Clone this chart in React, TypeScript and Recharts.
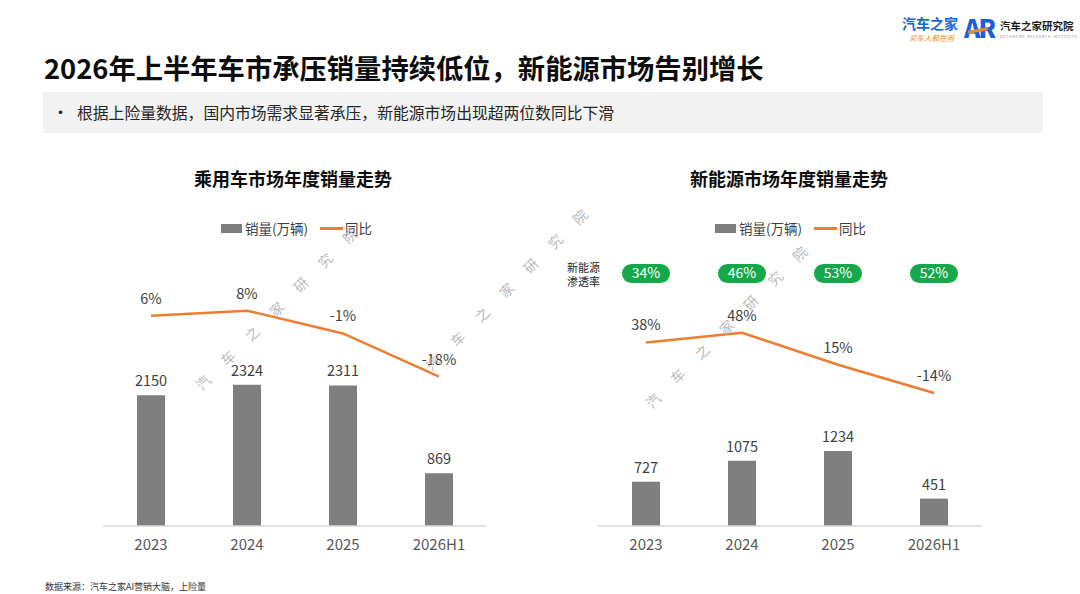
import { ComposedChart, Bar, Line, XAxis, YAxis, LabelList } from 'recharts'

const years = ['2023', '2024', '2025', '2026H1']
const pvSales = [2150, 2324, 2311, 869]
const pvYoy = [6, 8, -1, -18]
const nevSales = [727, 1075, 1234, 451]
const nevYoy = [38, 48, 15, -14]
const nevPenetration = [34, 46, 53, 52]

const FONT = '"Noto Sans CJK SC", "Microsoft YaHei", sans-serif'
const GREY = '#7f7f7f'
const ORANGE = '#ED7D31'
const GREEN = '#14a84a'

const pvData = years.map((year, i) => ({ year, sales: pvSales[i], yoy: pvYoy[i] }))
const nevData = years.map((year, i) => ({
  year,
  sales: nevSales[i],
  yoy: nevYoy[i],
  pen: nevPenetration[i],
}))

const PenPill = (props) => {
  const { x, width, value } = props
  const cx = Number(x) + Number(width) / 2
  return (
    <g>
      <rect x={cx - 24} y={64} width={48} height={19} rx={9.5} fill={GREEN} />
      <text
        x={cx}
        y={74}
        textAnchor='middle'
        dominantBaseline='middle'
        fill='#fff'
        fontSize={14}
      >
        {`${value}%`}
      </text>
    </g>
  )
}

const SalesChart = ({ data, left, yoyDomain, showPen = false }) => (
  <div style={{ position: 'absolute', left, top: 200 }}>
    <ComposedChart
      width={424}
      height={360}
      data={data}
      margin={{ top: 22, right: 20, left: 20, bottom: 0 }}
    >
      <XAxis
        dataKey='year'
        height={34}
        tickLine={false}
        axisLine={{ stroke: '#d9d9d9', strokeWidth: 1.5 }}
        tick={{ fill: '#595959', fontSize: 15 }}
        tickMargin={7}
      />
      <YAxis yAxisId='sales' domain={[0, 5000]} hide />
      <YAxis yAxisId='yoy' domain={yoyDomain} hide />
      <Bar yAxisId='sales' dataKey='sales' barSize={28} fill={GREY} isAnimationActive={false}>
        <LabelList dataKey='sales' position='top' offset={9} fill='#404040' fontSize={14.5} />
        {showPen && <LabelList dataKey='pen' content={PenPill} />}
      </Bar>
      <Line
        yAxisId='yoy'
        type='linear'
        dataKey='yoy'
        stroke={ORANGE}
        strokeWidth={2.5}
        dot={false}
        isAnimationActive={false}
      >
        <LabelList
          dataKey='yoy'
          position='top'
          offset={12}
          fill='#404040'
          fontSize={14.5}
          formatter={(v) => `${v}%`}
        />
      </Line>
    </ComposedChart>
  </div>
)

const Legend = ({ left }) => (
  <div style={{ position: 'absolute', left, top: 219, height: 18, fontSize: 13.5, color: '#404040' }}>
    <div style={{ position: 'absolute', left: 0, top: 5, width: 21, height: 9, background: GREY }} />
    <div style={{ position: 'absolute', left: 24, top: 0, whiteSpace: 'nowrap', lineHeight: '18px' }}>销量(万辆)</div>
    <div style={{ position: 'absolute', left: 99, top: 8, width: 23, height: 3, background: ORANGE }} />
    <div style={{ position: 'absolute', left: 124, top: 0, whiteSpace: 'nowrap', lineHeight: '18px' }}>同比</div>
  </div>
)

const Watermark = ({ x, y }) => (
  <div
    style={{
      position: 'absolute',
      left: x - 7,
      top: y - 7,
      fontSize: 14,
      lineHeight: '14px',
      letterSpacing: 20.5,
      color: '#bababa',
      whiteSpace: 'nowrap',
      transform: 'rotate(-45deg)',
      transformOrigin: '7px 7px',
      pointerEvents: 'none',
    }}
  >
    汽车之家研究院
  </div>
)

export default function App() {
  return (
    <div
      style={{
        position: 'absolute',
        left: 0,
        top: 0,
        width: 1080,
        height: 594,
        background: '#fff',
        fontFamily: FONT,
        overflow: 'hidden',
      }}
    >
      {/* logo */}
      <div style={{ position: 'absolute', left: 902, top: 15, fontSize: 14, fontWeight: 700, color: '#1766dc', lineHeight: '16px' }}>
        汽车之家
      </div>
      <div style={{ position: 'absolute', left: 909, top: 33, fontSize: 7.5, color: '#f08a24', lineHeight: '9px', fontStyle: 'italic' }}>
        买车人都在用
      </div>
      <div style={{ position: 'absolute', left: 964, top: 12, fontSize: 25, fontWeight: 900, color: '#1c5fd4', lineHeight: '30px', letterSpacing: -2 }}>
        AR
      </div>
      <div style={{ position: 'absolute', left: 968, top: 29, width: 20, height: 3, background: '#f08a24', transform: 'rotate(-10deg)' }} />
      <div style={{ position: 'absolute', left: 1000, top: 19, fontSize: 10.5, fontWeight: 700, color: '#1a1a1a', lineHeight: '13px' }}>
        汽车之家研究院
      </div>
      <div style={{ position: 'absolute', left: 1000, top: 34, fontSize: 3.5, color: '#888', letterSpacing: 0.8, whiteSpace: 'nowrap' }}>
        AUTOHOME RESEARCH INSTITUTE
      </div>

      {/* title */}
      <div style={{ position: 'absolute', left: 44, top: 49, fontSize: 27.3, fontWeight: 700, color: '#0d0d0d', lineHeight: '36px', whiteSpace: 'nowrap' }}>
        2026年上半年车市承压销量持续低位，新能源市场告别增长
      </div>

      {/* bullet box */}
      <div style={{ position: 'absolute', left: 43, top: 92, width: 1000, height: 41, background: '#f2f2f2' }} />
      <div style={{ position: 'absolute', left: 52, top: 102, fontSize: 17, color: '#262626', lineHeight: '20px' }}>•</div>
      <div style={{ position: 'absolute', left: 77, top: 103, fontSize: 15.8, color: '#262626', lineHeight: '20px', whiteSpace: 'nowrap' }}>
        根据上险量数据，国内市场需求显著承压，新能源市场出现超两位数同比下滑
      </div>

      {/* chart titles */}
      <div style={{ position: 'absolute', left: 93, width: 400, top: 166, textAlign: 'center', fontSize: 18, fontWeight: 700, color: '#0d0d0d', lineHeight: '24px' }}>
        乘用车市场年度销量走势
      </div>
      <div style={{ position: 'absolute', left: 589, width: 400, top: 166, textAlign: 'center', fontSize: 18, fontWeight: 700, color: '#0d0d0d', lineHeight: '24px' }}>
        新能源市场年度销量走势
      </div>

      <Legend left={221} />
      <Legend left={715} />

      <div style={{ position: 'absolute', left: 567, top: 260, fontSize: 11, color: '#262626', lineHeight: '14px' }}>
        新能源
        <br />
        渗透率
      </div>

      <SalesChart data={pvData} left={83} yoyDomain={[-77, 43]} />
      <SalesChart data={nevData} left={578} yoyDomain={[-151, 162]} showPen />

      <Watermark x={203} y={382} />
      <Watermark x={433} y={363} />
      <Watermark x={653} y={400} />

      <div style={{ position: 'absolute', left: 45, top: 581, fontSize: 9, color: '#333', lineHeight: '12px', whiteSpace: 'nowrap' }}>
        数据来源：汽车之家AI营销大脑，上险量
      </div>
    </div>
  )
}
